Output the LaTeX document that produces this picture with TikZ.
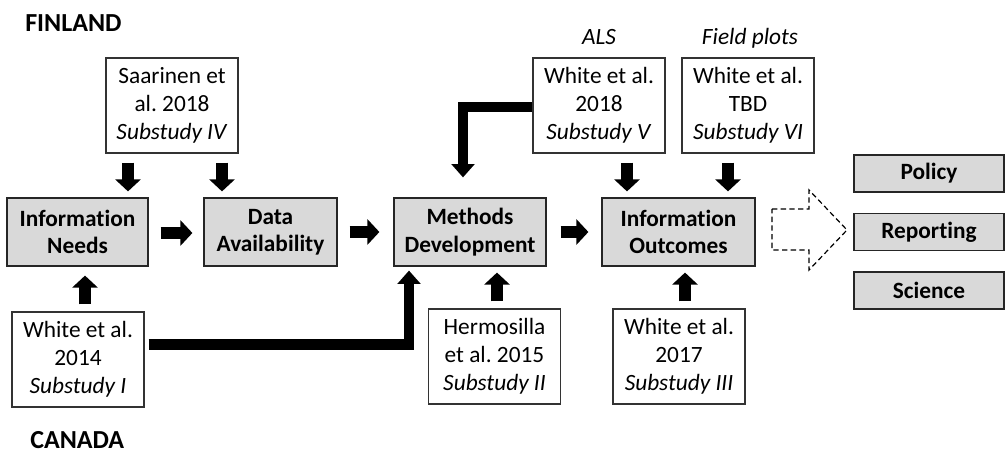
\documentclass[tikz,border=0pt]{standalone}
\usepackage{fontspec}
\setmainfont[Ligatures=NoCommon]{Carlito}
\usetikzlibrary{arrows.meta,calc}
\frenchspacing
\begin{document}
\begin{tikzpicture}[x=0.75pt,y=-0.75pt,
  every node/.style={font=\fontsize{17.5}{21}\selectfont, inner sep=0pt, align=center},
  refbox/.style={draw=black!80, fill=white, line width=0.8pt, minimum width=99pt, minimum height=71.25pt},
  stagebox/.style={draw=black!85, fill=black!15, line width=0.9pt, minimum height=51pt, font=\fontsize{17.5}{20.5}\selectfont\bfseries},
  outbox/.style={draw=black!85, fill=black!15, line width=0.9pt, minimum width=112.5pt, minimum height=27.75pt, font=\fontsize{17.5}{20.5}\selectfont\bfseries},
  country/.style={anchor=west, font=\fontsize{19.5}{23}\selectfont\bfseries},
  datalabel/.style={anchor=base, font=\fontsize{17.5}{21}\selectfont\itshape},
  barrow/.style={line width=9pt, -{Triangle[width=18.75pt,length=9pt]}},
  larrow/.style={line width=8pt, line join=miter, -{Triangle[width=17pt,length=10pt]}},
  dasharrow/.style={draw=black, line width=0.9pt, dash pattern=on 4pt off 2.5pt},
]
\useasboundingbox (0,0) rectangle (1006,459);

% country labels
\node[country] (fin) at (25,23) {FINLAND};
\node[country] (can) at (30,440) {CANADA};

% data labels
\node[datalabel] (als) at (599,45) {ALS};
\node[datalabel] (fp) at (750,45) {Field plots};

% reference boxes
\node[refbox] (saar) at (172,105.5) {Saarinen et\\al. 2018\\\textit{Substudy IV}};
\node[refbox] (w2018) at (599,105.5) {White et al.\\2018\\\textit{Substudy V}};
\node[refbox] (wtbd) at (748,105.5) {White et al.\\TBD\\\textit{Substudy VI}};
\node[refbox] (w2014) at (78,359.5) {White et al.\\2014\\\textit{Substudy I}};
\node[refbox] (herm) at (494.5,356.5) {Hermosilla\\et al. 2015\\\textit{Substudy II}};
\node[refbox] (w2017) at (679,356.5) {White et al.\\2017\\\textit{Substudy III}};

% stage boxes
\node[stagebox, minimum width=105.75pt] (needs) at (77.5,232) {Information\\Needs};
\node[stagebox, minimum width=99.75pt] (data) at (270.5,232) {Data\\Availability};
\node[stagebox, minimum width=114pt] (methods) at (470,232) {Methods\\Development};
\node[stagebox, minimum width=114.75pt] (outcomes) at (678.5,232) {Information\\Outcomes};

% output boxes
\node[outbox] (policy) at (929,173.5) {Policy};
\node[outbox] (reporting) at (929,232) {Reporting};
\node[outbox] (science) at (929,290.5) {Science};

% arrows
\draw[barrow] ($(saar.south)+(-44,9)$) -- ($(needs.north)+(50.5,-6)$);
\draw[barrow] ($(saar.south)+(50,9)$) -- ($(data.north)+(-48.5,-6)$);
\draw[barrow] ($(needs.east)+(12,1)$) -- ($(data.west)+(-11,1)$);
\draw[barrow] ($(data.east)+(12,0)$) -- ($(methods.west)+(-14,0)$);
\draw[barrow] ($(methods.east)+(14,0)$) -- ($(outcomes.west)+(-13,0)$);
\draw[barrow] ($(w2014.north)+(7,-7)$) -- ($(needs.south)+(7.5,9)$);
\draw[barrow] ($(w2018.south)+(28,9)$) -- ($(outcomes.north)+(-51.5,-6)$);
\draw[barrow] ($(wtbd.south)+(-20,9)$) -- ($(outcomes.north)+(49.5,-6)$);
\draw[barrow] ($(herm.north)+(2.5,-7)$) -- ($(methods.south)+(27,6)$);
\draw[barrow] ($(w2017.north)+(6,-7)$) -- ($(outcomes.south)+(6.5,6)$);
\draw[larrow] ($(w2014.east)+(4,-15)$) -| ($(methods.south)+(-61,4)$);
\draw[larrow] ($(w2018.west)+(0,1.5)$) -| ($(methods.north)+(-7,-20)$);

% dashed block arrow
\draw[dasharrow] (772,209) -- (809,209) -- (809,190) -- (847,230) -- (809,270) -- (809,250) -- (772,250) -- cycle;
\end{tikzpicture}
\end{document}
